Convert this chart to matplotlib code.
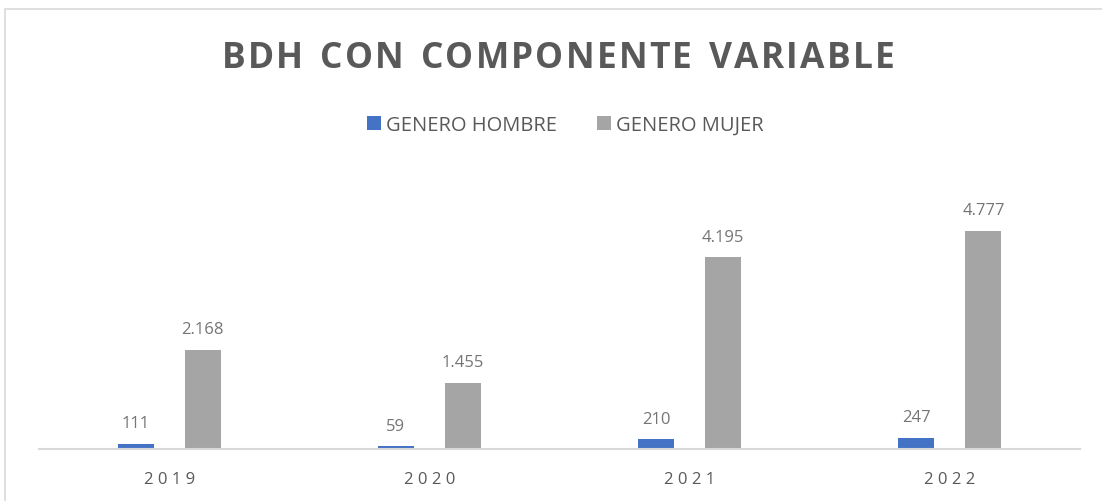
import matplotlib.pyplot as plt
import numpy as np
from matplotlib.patches import Rectangle

# datos
anios = ["2019", "2020", "2021", "2022"]
hombre = [111, 59, 210, 247]
mujer = [2168, 1455, 4195, 4777]
etiquetas_hombre = ["111", "59", "210", "247"]
etiquetas_mujer = ["2.168", "1.455", "4.195", "4.777"]

azul = "#4472C4"
gris = "#A5A5A5"
texto = "#595959"

plt.rcParams['font.family'] = ['Open Sans', 'DejaVu Sans']

fig = plt.figure(figsize=(11.02, 5.02), dpi=100)
ax = fig.add_axes([39/1102, 52/502, 1041/1102, 274/502])

# marco del grafico
fig.patches.append(Rectangle((5/1102, -0.1), 1.2, (492/502) + 0.1,
                             transform=fig.transFigure, fill=False,
                             edgecolor="#D9D9D9", linewidth=1.2))

x = np.arange(len(anios))
ancho = 0.138
desp = 0.129

b1 = ax.bar(x - desp, hombre, ancho, color=azul, label="GENERO HOMBRE")
b2 = ax.bar(x + desp, mujer, ancho, color=gris, label="GENERO MUJER")

for rect, lab in zip(b1, etiquetas_hombre):
    ax.annotate(lab, (rect.get_x() + rect.get_width()/2, rect.get_height()),
                xytext=(0, 9), textcoords="offset points",
                ha="center", va="bottom", fontsize=12, color="#757575")
for rect, lab in zip(b2, etiquetas_mujer):
    ax.annotate(lab, (rect.get_x() + rect.get_width()/2, rect.get_height()),
                xytext=(0, 9), textcoords="offset points",
                ha="center", va="bottom", fontsize=12, color="#757575")

ax.set_xlim(-0.5, 3.5)
ax.set_ylim(0, 6000)
ax.set_yticks([])
ax.set_xticks(x)
ax.set_xticklabels([" ".join(list(a)) for a in anios], fontsize=12, color=texto)
ax.tick_params(axis="x", length=0, pad=16)
for s in ["top", "right", "left"]:
    ax.spines[s].set_visible(False)
ax.spines["bottom"].set_color("#D9D9D9")
ax.spines["bottom"].set_linewidth(1.5)

# titulo con espaciado entre letras
titulo = "BDH CON COMPONENTE VARIABLE"
espacio = 2.2  # px extra por letra
renderer = fig.canvas.get_renderer()
anchos = []
for c in titulo:
    t = fig.text(0, 0, c if c != " " else "n", fontsize=25.5, fontweight="bold")
    w = t.get_window_extent(renderer).width
    if c == " ":
        w = w * 0.55
    anchos.append(w)
    t.remove()
total = sum(anchos) + espacio * (len(titulo) - 1)
x0 = 558 - total / 2
for c, w in zip(titulo, anchos):
    fig.text(x0 / 1102, 1 - 59/502, c, ha="left", va="center", fontsize=25.5,
             fontweight="bold", color=texto)
    x0 += w + espacio

fig.legend(handles=[b1, b2], loc="center", bbox_to_anchor=(0.513, 1 - 126/502),
           ncol=2, frameon=False, fontsize=14.5, labelcolor=texto,
           handlelength=0.7, handleheight=0.7, handletextpad=0.25, columnspacing=2.0)

fig.savefig("out.png", dpi=100)
